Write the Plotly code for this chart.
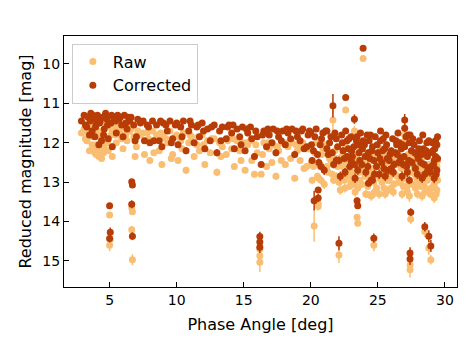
import plotly.graph_objects as go


RAW_COLOR = "#F9BE72"
CORR_COLOR = "#B83C05"
FONT = "DejaVu Sans"

# bulk of the observations (phase angle in deg, reduced magnitudes in mag)
phase_bulk = [
    2.9, 3.1, 3.3, 3.4, 3.5, 3.6, 3.7, 3.8, 3.9, 4.0,
    4.1, 4.2, 4.3, 4.4, 4.5, 4.6, 4.7, 4.8, 4.9, 5.1,
    5.2, 5.3, 5.5, 5.6, 5.7, 5.9, 6.0, 6.1, 6.3, 6.4,
    6.5, 6.8, 6.9, 7.0,
    7.3, 7.6, 7.8, 8.0, 8.2, 8.5, 8.7, 8.9, 9.0, 9.3,
    9.5, 9.7, 9.9, 10.1, 10.3, 10.5, 10.7, 10.9, 11.1, 11.3,
    11.5, 11.7, 11.9, 12.1, 12.3, 12.5, 12.8, 13.0, 13.2, 13.4,
    13.7, 13.9, 14.1, 14.3, 14.5, 14.7, 14.9,
    15.1, 15.3, 15.5, 15.8, 16.0, 16.3, 16.5, 16.7, 16.9, 17.2,
    17.4, 17.6, 17.9, 18.1, 18.3, 18.6, 18.8, 19.0, 19.3, 19.5,
    19.8,
    20.0, 20.2, 20.4, 20.6, 20.8, 21.0, 21.1, 21.3, 21.5, 21.7,
    21.8, 22.0, 22.2, 22.3, 22.5, 22.6, 22.8, 22.9, 23.0, 23.1,
    23.3, 23.4, 23.6, 23.7, 23.8, 24.0, 24.1, 24.2, 24.4, 24.5,
    24.6, 24.8, 24.9, 25.0, 25.2, 25.3, 25.5, 25.6, 25.8, 25.9,
    26.1, 26.2, 26.4, 26.5, 26.7, 26.8, 27.0, 27.1, 27.3, 27.5,
    27.6, 27.8, 27.9, 28.1, 28.2, 28.4, 28.5, 28.7, 28.8, 29.0,
    29.1, 29.2, 29.3, 29.4,
    20.1, 20.9, 21.4, 21.9, 22.4, 22.7, 23.2, 23.5, 23.9, 24.3,
    24.7, 25.1, 25.4, 25.7, 26.0, 26.3, 26.6, 26.9, 27.2, 27.7,
    28.0, 28.3, 28.6, 28.9, 29.3, 29.4, 29.2, 27.4, 25.2, 23.0,
]

corr_bulk = [
    11.45, 11.30, 11.60, 11.35, 11.80, 11.25, 11.70, 11.40, 11.85, 11.55,
    11.30, 12.05, 11.45, 11.95, 11.35, 11.65, 11.25, 11.40, 11.90, 11.50,
    12.10, 11.35, 11.75, 11.30, 11.40, 11.55, 11.85, 11.30, 11.65, 11.35,
    11.45, 11.55, 11.95, 11.85,
    11.50, 11.95, 11.55, 12.00, 11.45, 11.55, 11.95, 12.10, 11.50, 11.70,
    11.45, 11.90, 11.55, 12.05, 11.60, 11.45, 12.20, 11.70, 11.55, 12.00,
    11.60, 11.85, 11.50, 12.15, 11.65, 11.95, 11.55, 12.25, 11.70, 11.60,
    11.90, 11.55, 11.75, 12.15, 11.65, 11.85, 11.60,
    12.20, 11.75, 11.60, 12.35, 11.85, 12.55, 11.70, 12.10, 11.80, 11.65,
    12.25, 11.85, 11.70, 12.05, 11.75, 11.65, 12.30, 11.85, 11.70, 12.15,
    11.80,
    11.75, 12.20, 11.65, 12.50, 11.90, 12.70, 11.70, 12.30, 11.85, 12.55,
    11.75, 12.10, 12.85, 11.80, 12.40, 11.70, 12.15, 12.60, 11.85, 12.35,
    12.90, 11.95, 12.25, 11.75, 12.55, 12.05, 12.75, 11.80, 12.40, 12.95,
    12.10, 11.85, 12.60, 12.25, 11.95, 12.50, 12.15, 11.80, 12.70, 12.30,
    11.90, 12.55, 12.05, 11.75, 12.40, 12.85, 12.10, 11.85, 12.45, 12.20,
    11.90, 12.65, 12.30, 11.95, 12.50, 12.15, 12.80, 12.35, 11.95, 12.60,
    12.20, 12.45, 11.95, 12.70,
    12.45, 11.75, 12.00, 12.45, 12.20, 11.95, 12.10, 12.70, 11.95, 12.25,
    12.45, 12.80, 11.90, 12.40, 12.65, 12.25, 12.00, 12.55, 12.75, 12.05,
    12.40, 12.90, 12.20, 12.75, 12.35, 12.05, 12.90, 11.80, 11.70, 12.45,
]

raw_bulk = [
    11.75, 11.65, 11.95, 11.75, 12.20, 11.60, 12.05, 11.80, 12.25, 12.30,
    11.70, 12.35, 11.85, 12.40, 11.70, 12.10, 11.55, 11.95, 12.20, 11.80,
    12.35, 11.65, 12.00, 11.55, 11.70, 11.90, 12.15, 11.60, 11.95, 11.60,
    11.70, 11.85, 12.35, 12.10,
    11.80, 12.30, 11.75, 12.45, 11.70, 11.80, 12.20, 12.55, 11.85, 12.00,
    11.70, 12.30, 11.85, 12.45, 11.95, 11.75, 12.70, 12.00, 11.85, 12.35,
    12.05, 12.20, 11.80, 12.55, 11.95, 12.25, 11.90, 12.75, 12.00, 12.10,
    12.30, 11.90, 12.15, 12.60, 11.95, 12.20, 12.00,
    12.70, 12.05, 11.95, 12.80, 12.25, 12.80, 12.00, 12.60, 12.15, 12.05,
    12.85, 12.20, 12.00, 12.55, 12.10, 12.00, 12.90, 12.20, 12.10, 12.65,
    12.15,
    12.10, 12.60, 12.00, 12.90, 12.30, 13.05, 12.05, 12.75, 12.45, 12.95,
    12.20, 12.60, 13.20, 12.35, 12.95, 12.10, 12.70, 13.10, 12.30, 12.85,
    13.25, 12.40, 12.75, 12.15, 13.05, 12.60, 13.30, 12.25, 12.90, 13.35,
    12.65, 12.30, 13.15, 12.80, 12.40, 13.00, 12.70, 12.20, 13.20, 12.85,
    12.35, 13.05, 12.55, 12.25, 12.95, 13.30, 12.60, 12.40, 13.00, 12.75,
    12.45, 13.15, 12.90, 12.50, 13.10, 12.70, 13.25, 12.95, 12.55, 13.15,
    12.80, 13.05, 12.50, 13.20,
    12.95, 12.15, 12.40, 12.85, 12.60, 12.45, 12.55, 13.15, 12.45, 12.70,
    13.00, 13.30, 12.35, 12.95, 13.15, 12.80, 12.50, 13.10, 13.25, 12.60,
    13.00, 13.35, 12.80, 13.30, 12.90, 12.60, 13.40, 12.35, 12.15, 13.00,
]

err_bulk = [
    0.05, 0.04, 0.06, 0.05, 0.07, 0.04, 0.05, 0.06, 0.08, 0.05,
    0.04, 0.07, 0.05, 0.06, 0.04, 0.05, 0.04, 0.06, 0.07, 0.05,
    0.08, 0.04, 0.06, 0.05, 0.04, 0.05, 0.07, 0.04, 0.06, 0.05,
    0.04, 0.05, 0.08, 0.06,
    0.05, 0.06, 0.04, 0.07, 0.05, 0.04, 0.06, 0.08, 0.05, 0.04,
    0.05, 0.07, 0.04, 0.06, 0.05, 0.04, 0.09, 0.05, 0.04, 0.06,
    0.05, 0.07, 0.04, 0.08, 0.05, 0.06, 0.04, 0.09, 0.05, 0.06,
    0.07, 0.04, 0.05, 0.08, 0.05, 0.06, 0.04,
    0.06, 0.05, 0.04, 0.08, 0.05, 0.07, 0.04, 0.06, 0.05, 0.04,
    0.09, 0.05, 0.04, 0.06, 0.05, 0.04, 0.08, 0.05, 0.04, 0.07,
    0.05,
    0.06, 0.08, 0.05, 0.10, 0.06, 0.12, 0.05, 0.08, 0.06, 0.10,
    0.05, 0.07, 0.12, 0.06, 0.09, 0.05, 0.07, 0.10, 0.06, 0.08,
    0.12, 0.06, 0.08, 0.05, 0.10, 0.07, 0.11, 0.05, 0.08, 0.12,
    0.07, 0.05, 0.10, 0.08, 0.06, 0.09, 0.07, 0.05, 0.11, 0.08,
    0.06, 0.10, 0.07, 0.05, 0.09, 0.12, 0.07, 0.06, 0.09, 0.08,
    0.06, 0.11, 0.08, 0.06, 0.10, 0.07, 0.12, 0.08, 0.06, 0.10,
    0.07, 0.09, 0.06, 0.11,
    0.09, 0.05, 0.07, 0.10, 0.08, 0.06, 0.07, 0.11, 0.06, 0.08,
    0.09, 0.12, 0.06, 0.08, 0.10, 0.08, 0.06, 0.10, 0.12, 0.07,
    0.09, 0.12, 0.07, 0.11, 0.08, 0.07, 0.13, 0.06, 0.05, 0.09,
]

# more nights filling the main band
phase_extra = [
    20.05, 20.3, 20.5, 20.7, 21.2, 21.6, 22.1, 22.35, 22.55, 22.85,
    23.05, 23.25, 23.45, 23.65, 23.85, 24.05, 24.25, 24.35, 24.55, 24.75,
    24.95, 25.15, 25.35, 25.45, 25.65, 25.85, 26.0, 26.15, 26.35, 26.55,
    26.75, 26.95, 27.15, 27.35, 27.55, 27.75, 27.95, 28.05, 28.25, 28.45,
    28.65, 28.75, 28.95, 29.05, 29.15, 29.25, 29.35, 29.45, 21.2, 21.9,
    22.7, 23.55, 24.45, 25.55, 26.45, 27.25, 28.35, 29.45, 20.75, 26.85,
    3.2, 3.55, 3.75, 3.95, 4.05, 4.25, 4.55, 4.85, 5.15, 5.45,
    5.8, 6.2, 6.6, 7.1, 7.5, 7.9, 8.3, 8.8, 9.2, 9.6,
    10.0, 10.4, 11.0, 11.6, 12.0, 12.6, 13.3, 13.8, 14.2, 14.8,
    15.2, 15.6, 15.9, 16.4, 16.8, 17.1, 17.5, 17.8, 18.2, 18.5,
    18.9, 19.2, 19.4, 19.7, 19.9,
]
corr_extra = [
    12.05, 11.85, 12.30, 12.05, 12.15, 12.25, 12.45, 12.00, 12.75, 11.90,
    12.20, 12.55, 11.85, 12.45, 12.15, 12.35, 12.60, 11.95, 12.20, 12.80,
    12.05, 12.40, 12.20, 12.65, 12.05, 12.45, 12.20, 12.75, 11.95, 12.50,
    12.15, 12.35, 12.60, 12.00, 12.50, 12.25, 12.80, 12.15, 12.30, 12.55,
    12.00, 12.65, 12.25, 12.00, 12.55, 12.15, 12.80, 12.40, 11.70, 11.90,
    12.35, 12.05, 11.80, 12.85, 12.30, 11.80, 11.80, 11.85, 12.60, 12.05,
    11.55, 11.45, 11.30, 11.60, 11.40, 11.50, 11.80, 11.55, 11.30, 11.45,
    11.35, 11.50, 11.35, 11.40, 11.45, 11.60, 11.95, 11.45, 11.55, 12.00,
    11.50, 11.85, 11.45, 11.55, 11.70, 11.60, 11.95, 11.60, 11.55, 12.05,
    11.65, 11.90, 11.70, 11.80, 11.65, 12.00, 11.70, 11.95, 11.65, 11.90,
    11.70, 11.95, 11.65, 12.10, 11.70,
]
raw_extra = [
    12.50, 12.25, 12.85, 12.55, 12.60, 12.80, 13.00, 12.50, 13.15, 12.35,
    12.75, 13.05, 12.30, 12.95, 12.60, 12.85, 13.10, 12.45, 12.75, 13.25,
    12.55, 12.90, 12.65, 13.15, 12.50, 12.95, 12.70, 13.25, 12.45, 13.00,
    12.65, 12.90, 13.15, 12.50, 13.05, 12.80, 13.30, 12.65, 12.90, 13.10,
    12.55, 13.20, 12.85, 12.55, 13.10, 12.70, 13.30, 12.95, 12.10, 12.40,
    12.85, 12.55, 12.30, 13.30, 12.85, 12.30, 12.35, 12.45, 12.95, 12.60,
    11.90, 11.85, 11.70, 12.15, 12.05, 12.20, 12.25, 12.00, 11.65, 11.80,
    11.75, 11.80, 11.65, 11.70, 11.75, 11.90, 12.25, 11.75, 11.90, 12.40,
    11.80, 12.15, 11.80, 11.85, 12.05, 11.90, 12.35, 11.95, 11.90, 12.45,
    12.00, 12.45, 12.05, 12.30, 12.00, 12.50, 12.10, 12.45, 12.00, 12.40,
    12.05, 12.45, 12.00, 12.60, 12.10,
]
err_extra = [
    0.07, 0.06, 0.09, 0.07, 0.08, 0.09, 0.10, 0.06, 0.11, 0.06,
    0.08, 0.10, 0.06, 0.09, 0.07, 0.08, 0.10, 0.06, 0.08, 0.12,
    0.07, 0.09, 0.08, 0.11, 0.07, 0.09, 0.08, 0.12, 0.06, 0.10,
    0.07, 0.09, 0.10, 0.06, 0.10, 0.08, 0.12, 0.07, 0.08, 0.10,
    0.06, 0.11, 0.08, 0.06, 0.10, 0.07, 0.12, 0.09, 0.05, 0.06,
    0.09, 0.07, 0.05, 0.12, 0.08, 0.05, 0.06, 0.06, 0.09, 0.07,
    0.05, 0.04, 0.05, 0.06, 0.05, 0.06, 0.07, 0.05, 0.04, 0.05,
    0.04, 0.05, 0.04, 0.05, 0.04, 0.05, 0.07, 0.04, 0.05, 0.07,
    0.05, 0.06, 0.04, 0.05, 0.06, 0.05, 0.07, 0.05, 0.04, 0.07,
    0.05, 0.06, 0.05, 0.06, 0.04, 0.07, 0.05, 0.06, 0.05, 0.06,
    0.05, 0.06, 0.05, 0.07, 0.05,
]

# isolated points away from the main band
phase_out = [5.0, 5.05, 5.0, 6.65, 6.7, 6.65, 6.7, 16.2, 16.2, 16.2,
             20.25, 20.55, 20.55, 22.1, 23.45, 23.5, 24.7, 24.3, 24.6, 27.45,
             27.4, 27.4, 28.5, 28.8, 28.95, 23.9, 21.65, 22.6, 23.25, 27.0,
             27.0, 27.35]
corr_out = [13.60, 14.27, 14.43, 12.99, 13.07, 13.56, 14.37, 14.38, 14.52, 14.65,
            13.47, 13.20, 13.40, 14.55, 13.47, 13.60, 14.42, 13.03, 12.95, 13.76,
            14.80, 14.95, 14.13, 14.37, 14.62, 9.60, 11.06, 10.85, 11.40, 11.42,
            11.63, 12.95]
raw_out = [13.83, 14.45, 14.60, 13.65, 13.75, 14.21, 14.97, 14.70, 14.87, 15.03,
           14.11, 13.55, 13.62, 14.85, 13.89, 14.04, 14.60, 13.32, 13.32, 13.94,
           15.10, 15.22, 14.25, 14.67, 14.97, 9.86, 11.42, 11.17, 11.70, 11.80,
           11.95, 13.35]
ecorr_out = [0.05, 0.12, 0.10, 0.07, 0.07, 0.10, 0.10, 0.12, 0.12, 0.15,
             0.25, 0.08, 0.10, 0.18, 0.08, 0.08, 0.12, 0.08, 0.08, 0.10,
             0.15, 0.15, 0.12, 0.15, 0.15, 0.05, 0.30, 0.05, 0.12, 0.15,
             0.10, 0.10]
eraw_out = [0.05, 0.15, 0.15, 0.08, 0.08, 0.10, 0.14, 0.15, 0.18, 0.25,
            0.40, 0.10, 0.10, 0.20, 0.08, 0.08, 0.15, 0.08, 0.10, 0.12,
            0.20, 0.20, 0.15, 0.18, 0.12, 0.05, 0.30, 0.05, 0.12, 0.15,
            0.10, 0.15]

assert len(phase_bulk) == len(corr_bulk) == len(raw_bulk) == len(err_bulk)
assert len(phase_extra) == len(corr_extra) == len(raw_extra) == len(err_extra)
assert len(phase_out) == len(corr_out) == len(raw_out) == len(ecorr_out) == len(eraw_out)

phase = phase_bulk + phase_extra + phase_out
mag_raw = raw_bulk + raw_extra + raw_out
mag_corr = corr_bulk + corr_extra + corr_out
err_raw = err_bulk + err_extra + eraw_out
err_corr = err_bulk + err_extra + ecorr_out


def error_trace(y, err, color, name):
    return go.Scatter(
        x=phase,
        y=y,
        mode="markers",
        name=name,
        marker=dict(color=color, size=7, line=dict(width=0)),
        error_y=dict(type="data", array=err, visible=True,
                     color=color, thickness=1.5, width=0),
    )


fig = go.Figure()
fig.add_trace(error_trace(mag_raw, err_raw, RAW_COLOR, "Raw"))
fig.add_trace(error_trace(mag_corr, err_corr, CORR_COLOR, "Corrected"))

axis_style = dict(
    showgrid=False,
    zeroline=False,
    showline=True,
    linecolor="black",
    linewidth=1.2,
    mirror=True,
    ticks="inside",
    ticklen=5,
    tickwidth=1,
    tickcolor="black",
    tickfont=dict(size=14, color="black"),
    automargin=False,
)

fig.update_xaxes(
    range=[1.6, 30.9],
    dtick=5,
    title=dict(text="Phase Angle [deg]", font=dict(size=16, color="black"), standoff=11),
    **axis_style,
)
fig.update_yaxes(
    range=[15.66, 9.29],
    dtick=1,
    title=dict(text="Reduced magnitude [mag]", font=dict(size=16, color="black"), standoff=6),
    **axis_style,
)

# the page body adds an 8px offset, so the figure is a bit smaller than the window
fig.update_layout(
    width=460,
    height=339,
    paper_bgcolor="white",
    plot_bgcolor="white",
    font=dict(family=FONT, color="black"),
    margin=dict(l=56, r=11, t=28, b=60),
    showlegend=True,
    legend=dict(
        x=0.02,
        y=0.97,
        xanchor="left",
        yanchor="top",
        bgcolor="rgba(255,255,255,0.85)",
        bordercolor="#CCCCCC",
        borderwidth=1,
        font=dict(size=16, color="black"),
        tracegroupgap=2,
        itemwidth=30,
    ),
)

fig.write_html("out.html")
